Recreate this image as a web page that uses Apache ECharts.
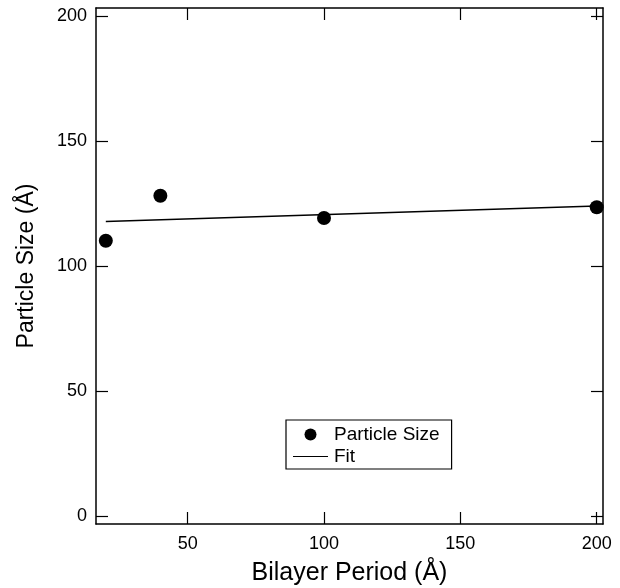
<!DOCTYPE html>
<html>
<head>
<meta charset="utf-8">
<script src="https://cdn.jsdelivr.net/npm/echarts@6/dist/echarts.min.js"></script>
<style>
  html, body { margin: 0; padding: 0; background: #fff; }
  #chart { width: 620px; height: 588px; }
</style>
</head>
<body>
<div id="chart"></div>
<script>
// Data
var bilayerPeriod = [20, 40, 100, 200];
var particleSize = [110.1, 128.1, 119.2, 123.5];
var fitX = [20, 200];
var fitY = [117.8, 124.0];
var xTicks = [50, 100, 150, 200];
var yTicks = [0, 50, 100, 150, 200];

var FONT = "'Liberation Sans', Arial, Helvetica, sans-serif";

var scatterData = bilayerPeriod.map(function (x, i) { return [x, particleSize[i]]; });
var fitData = fitX.map(function (x, i) { return [x, fitY[i]]; });

var chart = echarts.init(document.getElementById('chart'), null, { renderer: 'canvas' });

var xCommon = {
  type: 'value', min: 16.4, max: 202.3,
  axisLine: { show: true, onZero: false, lineStyle: { color: '#000', width: 1.5 } },
  axisTick: { show: true, inside: true, length: 12, customValues: xTicks, lineStyle: { color: '#000', width: 1.2 } },
  splitLine: { show: false }
};
var yCommon = {
  type: 'value', min: -3.2, max: 203.2,
  axisLine: { show: true, onZero: false, lineStyle: { color: '#000', width: 1.5 } },
  axisTick: { show: true, inside: true, length: 12, customValues: yTicks, lineStyle: { color: '#000', width: 1.2 } },
  splitLine: { show: false }
};

var option = {
  backgroundColor: '#fff',
  animation: false,
  textStyle: { fontFamily: FONT, color: '#000' },
  grid: { left: 96, right: 17, top: 8, bottom: 64, containLabel: false, outerBoundsMode: 'none' },
  xAxis: [
    Object.assign({}, xCommon, {
      position: 'bottom',
      name: 'Bilayer Period (Å)',
      nameLocation: 'middle',
      nameGap: 37,
      nameTextStyle: { fontFamily: FONT, fontSize: 25, color: '#000' },
      axisLabel: { show: true, customValues: xTicks, margin: 11, fontFamily: FONT, fontSize: 18, color: '#000' }
    }),
    Object.assign({}, xCommon, { position: 'top', axisLabel: { show: false } })
  ],
  yAxis: [
    Object.assign({}, yCommon, {
      position: 'left',
      name: 'Particle Size (Å)',
      nameLocation: 'middle',
      nameGap: 58,
      nameTextStyle: { fontFamily: FONT, fontSize: 23, color: '#000' },
      axisLabel: { show: true, customValues: yTicks, margin: 9, fontFamily: FONT, fontSize: 18, color: '#000' }
    }),
    Object.assign({}, yCommon, { position: 'right', axisLabel: { show: false } })
  ],
  legend: {
    orient: 'vertical',
    left: 286,
    top: 420,
    borderColor: '#000',
    borderWidth: 1.2,
    padding: [5, 12, 3, 7],
    itemGap: 3,
    itemWidth: 35,
    itemHeight: 12,
    textStyle: { fontFamily: FONT, fontSize: 19, color: '#000', padding: [0, 0, 0, 1] },
    data: [
      { name: 'Particle Size', icon: 'circle' },
      { name: 'Fit', icon: 'path://M0,0 L35,0 L35,1.2 L0,1.2 Z' }
    ]
  },
  series: [
    {
      name: 'Particle Size',
      type: 'scatter',
      xAxisIndex: 0, yAxisIndex: 0,
      symbol: 'circle',
      symbolSize: 14,
      itemStyle: { color: '#000', opacity: 1 },
      data: scatterData,
      z: 3
    },
    {
      name: 'Fit',
      type: 'line',
      xAxisIndex: 0, yAxisIndex: 0,
      symbol: 'none',
      showSymbol: false,
      lineStyle: { color: '#000', width: 1.3 },
      itemStyle: { color: '#000' },
      data: fitData,
      z: 2
    }
  ]
};

chart.setOption(option);
</script>
</body>
</html>
